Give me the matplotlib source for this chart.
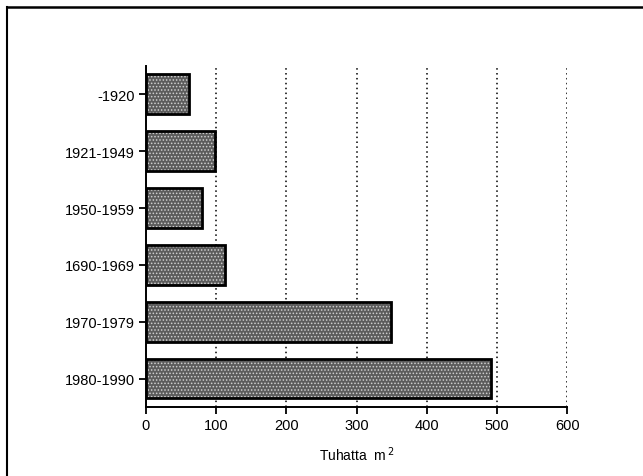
import matplotlib
matplotlib.use("Agg")
import matplotlib.pyplot as plt
from matplotlib.lines import Line2D

categories = ["-1920", "1921-1949", "1950-1959", "1690-1969", "1970-1979", "1980-1990"]
values = [61, 98, 80, 112, 349, 491]
xticks = [0, 100, 200, 300, 400, 500, 600]

plt.rcParams['font.family'] = ['Liberation Sans', 'DejaVu Sans']
plt.rcParams['hatch.linewidth'] = 0.7

fig = plt.figure(figsize=(6.43, 4.77), dpi=100)
ax = fig.add_axes([0.227, 0.1447, 0.655, 0.715])

ypos = list(range(len(categories)))
ax.barh(ypos, values, height=0.7, color='#5c5c5c', edgecolor='#cfcfcf',
        hatch='.....', linewidth=0, zorder=2)
ax.barh(ypos, values, height=0.7, fill=False, edgecolor='black',
        linewidth=2.0, zorder=3)

ax.set_xlim(0, 600)
ax.set_ylim(5.5, -0.5)
ax.set_yticks(ypos)
ax.set_yticklabels(categories, fontsize=10.5)
ax.set_xticks(xticks)
ax.set_xticklabels([str(t) for t in xticks], fontsize=10.5)
ax.tick_params(axis='both', direction='out', length=5, width=1.3, pad=3)

for t in xticks[1:]:
    ax.axvline(t, color='black', linestyle=(0, (1, 2.2)), linewidth=1.1, zorder=1)

for s in ['top', 'right']:
    ax.spines[s].set_visible(False)
for s in ['left', 'bottom']:
    ax.spines[s].set_linewidth(1.4)

ax.set_xlabel("Tuhatta  m$^{\\,2}$", fontsize=10, labelpad=9)

# figure frame (top and left)
fig.add_artist(Line2D([7/643, 1], [1 - 8/477, 1 - 8/477], color='black', linewidth=1.8,
                      transform=fig.transFigure))
fig.add_artist(Line2D([7/643, 7/643], [0, 1 - 8/477], color='black', linewidth=1.5,
                      transform=fig.transFigure))

fig.savefig("out.png", dpi=100)
